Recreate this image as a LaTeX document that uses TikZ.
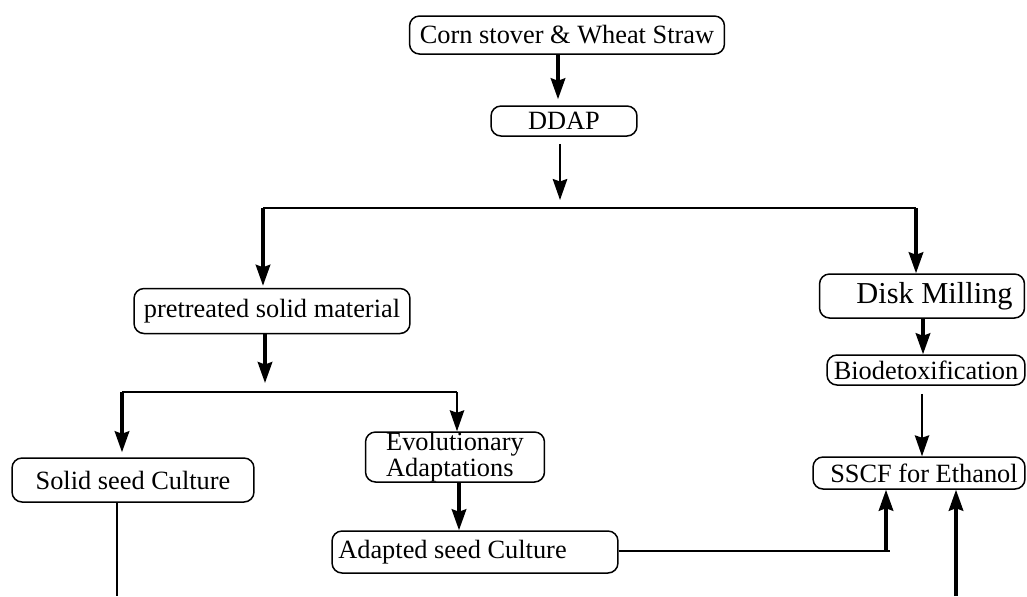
\documentclass[tikz,border=0pt]{standalone}
\usepackage{fontspec}
\setmainfont{Liberation Serif}
\usetikzlibrary{arrows.meta,positioning}

\begin{document}
\begin{tikzpicture}[
      x=0.02cm,y=-0.02cm,
      box/.style={draw=black,line width=0.03cm,rounded corners=0.2cm,
                  inner sep=0pt,font=\fontsize{15}{14.5}\selectfont,align=center},
      thn/.style={draw=black,line width=0.03cm},
      thk/.style={draw=black,line width=0.065cm},
      ar/.style={-{Stealth[length=0.42cm,width=0.29cm,inset=0.05cm]}}
    ]
    \useasboundingbox (0,0) rectangle (1027,596);

    \node[box,minimum width=6.3cm,minimum height=0.76cm] (corn) at (567,35) {Corn stover \& Wheat Straw};
    \node[box,minimum width=2.92cm,minimum height=0.6cm] (ddap) at (564,121) {DDAP};
    \node[box,minimum width=5.52cm,minimum height=0.9cm] (pre) at (272,311) {pretreated solid material};
    \node[box,minimum width=4.1cm,minimum height=0.88cm,font=\fontsize{17.3}{19}\selectfont] (disk) at (922,296) {\hspace{0.5cm}Disk Milling};
    \node[box,minimum width=3.96cm,minimum height=0.6cm] (bio) at (926,370) {Biodetoxification};
    \node[box,minimum width=4.84cm,minimum height=0.88cm] (solid) at (133,480) {Solid seed Culture};
    \node[box,minimum width=3.58cm,minimum height=1.0cm,align=left] (evo) at (455,457) {Evolutionary\\Adaptations};
    \node[box,minimum width=5.72cm,minimum height=0.84cm] (adapt) at (475,552) {\hspace{-0.9cm}Adapted seed Culture};
    \node[box,minimum width=4.24cm,minimum height=0.64cm] (sscf) at (919,473) {\hspace{0.2cm}SSCF for Ethanol};

    % branch points
    \coordinate (jl) at (263,208);
    \coordinate (jr) at (916,208);
    \coordinate (jm) at (265,392);
    \coordinate (ja) at (122,392);
    \coordinate (jb) at (457,392);
    \coordinate (ju) at (890,551);
    \coordinate (sb) at (117,596);
    \coordinate (eb) at (956,596);

    \draw[thk,ar,shorten >=0.12cm] (corn.south -| 558,0) -- (ddap.north -| 558,0);
    \draw[thn,ar,line width=0.045cm,shorten <=0.14cm,shorten >=0.16cm] (ddap.south -| 560,0) -- (560,208);
    \draw[thn] (jl) -- (jr);
    \draw[thk,ar,shorten >=0.04cm] (jl) -- (jl |- pre.north);
    \draw[thk,ar] (jr) -- (jr |- disk.north);
    \draw[thk,ar,shorten >=0.18cm] (pre.south -| jm) -- (jm);
    \draw[thn] (ja) -- (jb);
    \draw[thk,ar,shorten >=0.1cm] (ja) -- (ja |- solid.north);
    \draw[thn,ar,line width=0.035cm] (jb) -- (jb |- evo.north);
    \draw[thk,ar] (evo.south -| 459,0) -- (adapt.north -| 459,0);
    \draw[thk,ar] (disk.south -| 923,0) -- (bio.north -| 923,0);
    \draw[thn,ar,shorten <=0.16cm] (bio.south -| 922,0) -- (sscf.north -| 922,0);
    \draw[thn,line width=0.045cm] (solid.south -| sb) -- (sb);
    \draw[thn] (adapt.east |- ju) -- (ju);
    \draw[thk,ar] (886,551) -- (sscf.south -| 886,0);
    \draw[thk,ar] (eb) -- (eb |- sscf.south);
\end{tikzpicture}
\end{document}
